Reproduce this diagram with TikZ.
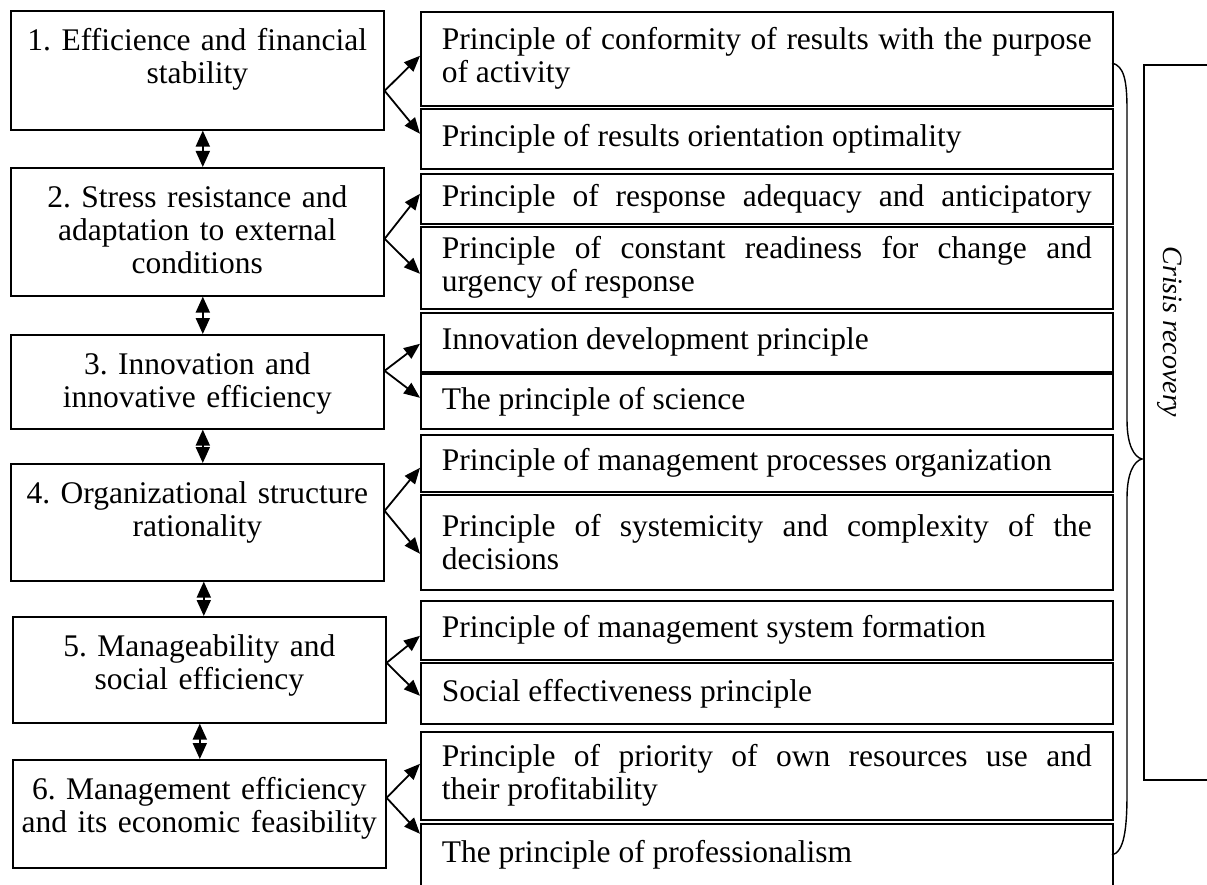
\documentclass[tikz,border=0pt]{standalone}
\usepackage{fontspec}
\setmainfont{Liberation Serif}
\usepackage{tikz}
\usetikzlibrary{arrows.meta}
\newcommand{\boxline}{1.6pt}
\newcommand{\arrline}{1.8pt}
\newcommand{\boxfont}{\fontsize{31.5}{33}\selectfont}
\newcommand{\sidefont}{\fontsize{28}{30}\selectfont\itshape}
\hyphenpenalty=10000
\exhyphenpenalty=10000
\frenchspacing

\begin{document}
\begin{tikzpicture}[x=1pt, y=-1pt,
  lbox/.style={draw, line width=\boxline, anchor=north west, text width=357pt, inner xsep=8pt, inner ysep=0pt, align=center, text height=40pt, font=\boxfont},
  rbox/.style={draw, line width=\boxline, anchor=north west, text width=650pt, inner xsep=21pt, inner ysep=0pt, align=justify, font=\boxfont},
  arr/.style={line width=\arrline, -{Triangle[length=16pt,width=13pt]}},
  dbl/.style={line width=\arrline, {Triangle[length=16pt,width=14pt]}-{Triangle[length=16pt,width=14pt]}}]
\useasboundingbox (0,0) rectangle (1207,885);
\clip (0,0) rectangle (1207,885);
%left
\node[lbox] (1) at (10, 10) [text depth=79pt] {1. Efficience and financial\\stability};
\node[lbox] (2) at (10, 167) [text depth=88pt] {2. Stress resistance and\\adaptation to external\\conditions};
\node[lbox] (3) at (10, 334) [text depth=54pt] {3. Innovation and\\innovative efficiency};
\node[lbox] (4) at (10, 463) [text depth=77pt] {4. Organizational structure\\rationality};
\node[lbox] (5) at (12, 616) [text depth=66pt] {5. Manageability and\\social efficiency};
\node[lbox] (6) at (12, 759) [text depth=68pt] {6. Management efficiency\\and its economic feasibility};
%right
\node[rbox] (1a) at (420, 11) [minimum height=94pt] {Principle of conformity of results with the purpose\linebreak of activity};
\node[rbox] (1b) at (420, 108) [minimum height=60pt] {Principle of results orientation optimality};
\node[rbox] (2a) at (420, 173) [minimum height=50pt] {\makebox[\linewidth][s]{Principle of response adequacy and anticipatory}};
\node[rbox] (2b) at (420, 226) [minimum height=82pt] {Principle of constant readiness for change and\linebreak urgency of response};
\node[rbox] (3a) at (420, 312) [minimum height=59pt] {Innovation development principle};
\node[rbox] (3b) at (420, 373) [minimum height=55pt] {The principle of science};
\node[rbox] (4a) at (420, 434) [minimum height=57pt] {Principle of management processes organization};
\node[rbox] (4b) at (420, 494) [minimum height=95pt] {Principle of systemicity and complexity of the\linebreak decisions};
\node[rbox] (5a) at (420, 600) [minimum height=59pt] {Principle of management system formation};
\node[rbox] (5b) at (420, 662) [minimum height=61pt] {Social effectiveness principle};
\node[rbox] (6a) at (420, 731) [minimum height=88pt] {Principle of priority of own resources use and\linebreak their profitability};
\node[rbox] (6b) at (420, 823) [minimum height=80pt, text depth=24pt] {The principle of professionalism};
%crisis
\node[draw, line width=\boxline, anchor=north west, minimum width=100pt, minimum height=715pt] (7) at (1143, 64) {};
\node[font=\sidefont, rotate=-90] (cr) at (1170, 332) {Crisis recovery};
%arrows
\draw[arr] ([yshift=-20.5pt]1.east) -- ([yshift=3pt]1a.west);
\draw[arr] ([yshift=-20.5pt]1.east) -- ([yshift=5pt]1b.west);
\draw[arr] ([yshift=-7pt]2.east) -- ([yshift=5pt]2a.west);
\draw[arr] ([yshift=-7pt]2.east) -- ([yshift=-6pt]2b.west);
\draw[arr] ([yshift=11pt]3.east) -- ([yshift=-1.5pt]3a.west);
\draw[arr] ([yshift=11pt]3.east) -- ([yshift=3.5pt]3b.west);
\draw[arr] ([yshift=11.5pt]4.east) -- ([yshift=-4.5pt]4a.west);
\draw[arr] ([yshift=11.5pt]4.east) -- ([yshift=-11.5pt]4b.west);
\draw[arr] ([yshift=7pt]5.east) -- ([yshift=-5.5pt]5a.west);
\draw[arr] ([yshift=7pt]5.east) -- ([yshift=-2.5pt]5b.west);
\draw[arr] ([yshift=16pt]6.east) -- ([yshift=12pt]6a.west);
\draw[arr] ([yshift=16pt]6.east) -- ([yshift=30pt]6b.west);
%12345
\draw[dbl] ([xshift=5.5pt]1.south) -- ([xshift=5.5pt]2.north);
\draw[dbl] ([xshift=5.5pt]2.south) -- ([xshift=5.5pt]3.north);
\draw[dbl] ([xshift=5.5pt]3.south) -- ([xshift=5.5pt]4.north);
\draw[dbl] ([xshift=6.5pt]4.south) -- ([xshift=4.5pt]5.north);
\draw[dbl] ([xshift=0.5pt]5.south) -- ([xshift=0.5pt]6.north);
%brace
\draw[line width=1.4pt] (1112,63) .. controls (1124,66) and (1127,80) .. (1127,110) -- (1127,420) .. controls (1127,445) and (1134,457) .. (1142,459) .. controls (1134,461) and (1127,473) .. (1127,498) -- (1127,793) .. controls (1127,830) and (1124,852) .. (1112,855);
\end{tikzpicture}
\end{document}
